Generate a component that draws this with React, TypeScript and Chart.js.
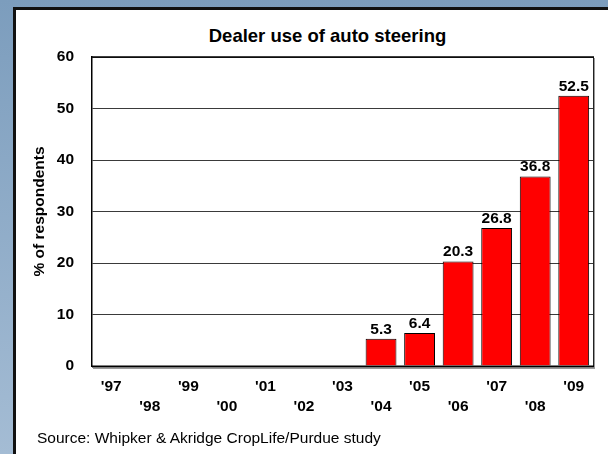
import React, { useEffect, useRef } from "react";
import { Chart, registerables } from "chart.js";

Chart.register(...registerables);

const categories = ["'97", "'98", "'99", "'00", "'01", "'02", "'03", "'04", "'05", "'06", "'07", "'08", "'09"];
const values = [0, 0, 0, 0, 0, 0, 0, 5.3, 6.4, 20.3, 26.8, 36.8, 52.5];
const yMin = 0;
const yMax = 60;
const yStep = 10;
const titleText = "Dealer use of auto steering";
const yAxisTitle = "% of respondents";
const sourceText = "Source: Whipker & Akridge CropLife/Purdue study";

const FONT = '"Liberation Sans", Arial, Helvetica, sans-serif';

const valueLabels = {
  id: "valueLabels",
  afterDatasetsDraw(chart: any) {
    const ctx = chart.ctx;
    const meta = chart.getDatasetMeta(0);
    ctx.save();
    ctx.font = `bold 15.5px ${FONT}`;
    ctx.fillStyle = "#000";
    ctx.textAlign = "center";
    ctx.textBaseline = "alphabetic";
    meta.data.forEach((el: any, i: number) => {
      const v = values[i];
      if (!v) return;
      ctx.fillText(v.toFixed(1), el.x, el.y - 5);
    });
    ctx.restore();
  },
};

const frame = {
  id: "frame",
  afterDatasetsDraw(chart: any) {
    const { ctx, chartArea } = chart;
    const { left, right, top, bottom } = chartArea;
    ctx.save();
    // right border with light shadow
    ctx.strokeStyle = "#9a9a9a";
    ctx.lineWidth = 1;
    ctx.beginPath();
    ctx.moveTo(right + 1.5, top + 1);
    ctx.lineTo(right + 1.5, bottom + 2);
    ctx.stroke();
    ctx.strokeStyle = "#222";
    ctx.beginPath();
    ctx.moveTo(right + 0.5, top);
    ctx.lineTo(right + 0.5, bottom);
    ctx.stroke();
    // top border
    ctx.strokeStyle = "#000";
    ctx.lineWidth = 1.5;
    ctx.beginPath();
    ctx.moveTo(left, top);
    ctx.lineTo(right + 1, top);
    ctx.stroke();
    // zero line with shadow
    ctx.strokeStyle = "#9a9a9a";
    ctx.lineWidth = 1;
    ctx.beginPath();
    ctx.moveTo(left + 1, bottom + 2.5);
    ctx.lineTo(right + 2, bottom + 2.5);
    ctx.stroke();
    ctx.strokeStyle = "#000";
    ctx.lineWidth = 2;
    ctx.beginPath();
    ctx.moveTo(left, bottom + 0.5);
    ctx.lineTo(right + 1, bottom + 0.5);
    ctx.stroke();
    ctx.restore();
  },
};

function App() {
  const canvasRef = useRef<HTMLCanvasElement | null>(null);

  useEffect(() => {
    const canvas = canvasRef.current;
    if (!canvas) return;
    Chart.defaults.font.family = FONT;
    const chart = new Chart(canvas, {
      type: "bar",
      data: {
        labels: categories,
        datasets: [
          {
            data: values,
            backgroundColor: "#ff0000",
            borderColor: "#000000",
            borderWidth: 1,
            borderSkipped: "bottom",
            barPercentage: 0.8,
            categoryPercentage: 1,
          },
        ],
      },
      options: {
        responsive: false,
        animation: false,
        devicePixelRatio: 1,
        layout: { padding: { left: 16, top: 57, right: 15, bottom: 0 } },
        plugins: {
          legend: { display: false },
          tooltip: { enabled: false },
          title: { display: false },
        },
        scales: {
          x: {
            grid: { display: false, drawTicks: false },
            border: { display: false },
            ticks: {
              autoSkip: false,
              maxRotation: 0,
              minRotation: 0,
              padding: 11,
              color: "#000",
              font: { size: 15.5, weight: "bold", lineHeight: 1.29 },
              callback: (_v: any, i: number) => (i % 2 === 0 ? [categories[i]] : ["", categories[i]]),
            },
            afterFit: (scale: any) => {
              scale.height = 88;
            },
          },
          y: {
            min: yMin,
            max: yMax,
            grid: { color: "#3a3a3a", lineWidth: 1, drawTicks: false },
            border: { display: true, color: "#000", width: 1.5 },
            ticks: {
              stepSize: yStep,
              padding: 18,
              color: "#000",
              font: { size: 15.5, weight: "bold" },
            },
            title: {
              display: true,
              text: yAxisTitle,
              color: "#000",
              font: { size: 15.5, weight: "bold" },
              padding: { top: 14, bottom: 0 },
            },
            afterFit: (scale: any) => {
              scale.width = 76;
            },
          },
        },
      },
      plugins: [frame, valueLabels],
    });
    return () => chart.destroy();
  }, []);

  return (
    <div
      style={{
        position: "fixed",
        left: 0,
        top: 0,
        width: 608,
        height: 454,
        overflow: "hidden",
        background: "linear-gradient(180deg, #7c9dbd 0%, #a4bcd4 100%)",
        fontFamily: FONT,
      }}
    >
      <div
        style={{
          position: "absolute",
          left: 13,
          top: 7,
          width: 620,
          height: 470,
          background: "#ffffff",
          borderTop: "3px solid #111",
          borderLeft: "3px solid #111",
          boxSizing: "border-box",
        }}
      />
      <div
        style={{
          position: "absolute",
          left: 327.5,
          top: 25,
          transform: "translateX(-50%)",
          whiteSpace: "nowrap",
          fontSize: 18.5,
          lineHeight: "22px",
          fontWeight: "bold",
          color: "#000",
        }}
      >
        {titleText}
      </div>
      <canvas
        ref={canvasRef}
        width={608}
        height={454}
        style={{ position: "absolute", left: 0, top: 0, width: 608, height: 454 }}
      />
      <div
        style={{
          position: "absolute",
          left: 37,
          top: 429,
          whiteSpace: "nowrap",
          fontSize: 15.5,
          lineHeight: "18px",
          color: "#000",
        }}
      >
        {sourceText}
      </div>
    </div>
  );
}

export default App;
